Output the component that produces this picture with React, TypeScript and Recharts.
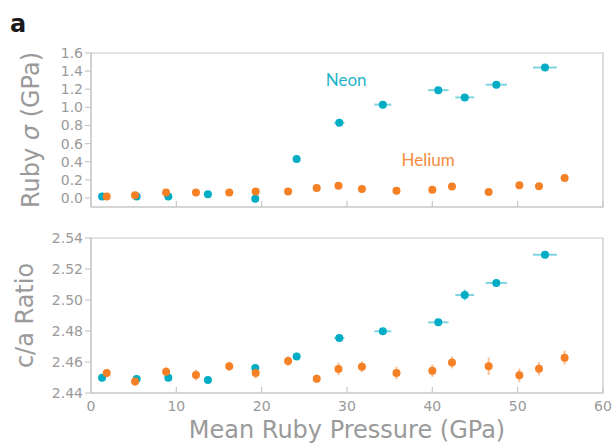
import React from 'react';
import { ScatterChart, Scatter, XAxis, YAxis, ErrorBar, ReferenceArea, ReferenceDot } from 'recharts';

// pressures (GPa)
const neonPressure = [1.3, 5.35, 9.06, 13.7, 19.25, 24.1, 29.1, 34.2, 40.7, 43.8, 47.5, 53.2];
const neonPressureErr = [0.15, 0.15, 0.15, 0.15, 0.15, 0.3, 0.6, 1.0, 1.2, 1.1, 1.25, 1.4];
const neonSigma = [0.015, 0.015, 0.015, 0.04, -0.01, 0.43, 0.83, 1.03, 1.19, 1.11, 1.25, 1.44];
const neonRatio = [2.4499, 2.449, 2.4499, 2.4484, 2.4561, 2.4636, 2.4755, 2.4798, 2.4856, 2.5032, 2.511, 2.5292];
const neonRatioErr = [0.001, 0.001, 0.001, 0.001, 0.001, 0.001, 0.001, 0.001, 0.001, 0.0035, 0.001, 0.001];

const heliumPressure = [1.84, 5.16, 8.8, 12.3, 16.2, 19.3, 23.1, 26.45, 29.0, 31.75, 35.8, 40.0, 42.3, 46.6, 50.2, 52.5, 55.5];
const heliumSigma = [0.015, 0.03, 0.06, 0.06, 0.06, 0.07, 0.07, 0.11, 0.135, 0.1, 0.08, 0.09, 0.125, 0.066, 0.14, 0.13, 0.22];
const heliumRatio = [2.4529, 2.4475, 2.4537, 2.4516, 2.4572, 2.4529, 2.4606, 2.4492, 2.4555, 2.457, 2.4529, 2.4544, 2.4597, 2.4572, 2.4514, 2.4557, 2.4628];
const heliumRatioErr = [0.0027, 0.003, 0.003, 0.0035, 0.003, 0.0035, 0.0032, 0.0027, 0.004, 0.0035, 0.004, 0.004, 0.0038, 0.0056, 0.0044, 0.0042, 0.0045];

const xTicks = [0, 10, 20, 30, 40, 50, 60];
const sigmaTicks = [0, 0.2, 0.4, 0.6, 0.8, 1.0, 1.2, 1.4, 1.6];
const ratioTicks = [2.44, 2.46, 2.48, 2.5, 2.52, 2.54];

const NEON = '#00adc4';
const HELIUM = '#f58025';
const AXIS = '#c8c8c8';
const TEXT = '#9a9a9a';

const neonTop = neonPressure.map((p, i) => ({ p, v: neonSigma[i], pErr: neonPressureErr[i] }));
const heliumTop = heliumPressure.map((p, i) => ({ p, v: heliumSigma[i] }));
const neonBottom = neonPressure.map((p, i) => ({ p, v: neonRatio[i], pErr: neonPressureErr[i], vErr: neonRatioErr[i] }));
const heliumBottom = heliumPressure.map((p, i) => ({ p, v: heliumRatio[i], vErr: heliumRatioErr[i] }));

const dot = (color: string) => (props: any) => <circle cx={props.cx} cy={props.cy} r={4} fill={color} />;

// x ticks point into the plot, like the original
const xTick = (withLabel: boolean) => (props: any) => (
  <g>
    <line x1={props.x} x2={props.x} y1={props.y} y2={props.y - 6} stroke={AXIS} strokeWidth={1.2} />
    {withLabel && (
      <text x={props.x} y={props.y + 18} textAnchor="middle" fill={TEXT} fontSize={14}>
        {props.payload.value}
      </text>
    )}
  </g>
);

const yTitle = (parts: React.ReactNode, x: number) => (props: any) => {
  const vb = props.viewBox;
  const cy = vb.y + vb.height / 2;
  return (
    <text x={x} y={cy} transform={`rotate(-90 ${x} ${cy})`} textAnchor="middle" fill={TEXT} fontSize={24}>
      {parts}
    </text>
  );
};

export default function App() {
  return (
    <div style={{ position: 'absolute', left: 0, top: 0, width: 613, height: 444, fontFamily: 'DejaVu Sans', background: '#fff' }}>
      <svg width={613} height={444} style={{ position: 'absolute', left: 0, top: 0 }}>
        <text x={10} y={32} fontSize={24} fontWeight="bold" fill="#1a1a1a">a</text>
      </svg>

      <div style={{ position: 'absolute', left: 0, top: 0 }}>
        <ScatterChart width={613} height={215} margin={{ top: 53, right: 10, bottom: 0, left: 0 }}>
          <XAxis
            type="number"
            dataKey="p"
            domain={[0, 60]}
            ticks={xTicks}
            interval={0}
            height={8}
            tickSize={0}
            tickMargin={0}
            tickLine={false}
            tick={xTick(false)}
            axisLine={{ stroke: AXIS, strokeWidth: 1.2 }}
            allowDataOverflow
          />
          <YAxis
            type="number"
            dataKey="v"
            domain={[-0.1, 1.6]}
            ticks={sigmaTicks}
            interval={0}
            width={91}
            tickSize={6}
            tickMargin={2}
            tickFormatter={(v: number) => v.toFixed(1)}
            tick={{ fill: TEXT, fontSize: 14 }}
            tickLine={{ stroke: AXIS, strokeWidth: 1.2 }}
            axisLine={{ stroke: AXIS, strokeWidth: 1.2 }}
            label={{
              content: yTitle(
                <>
                  Ruby <tspan fontStyle="italic">σ</tspan> (GPa)
                </>,
                39
              ),
            }}
            allowDataOverflow
          />
          <ReferenceArea x1={0} x2={60} y1={-0.1} y2={1.6} fill="none" stroke={AXIS} strokeWidth={1.2} />
          <Scatter data={neonTop} isAnimationActive={false} shape={dot(NEON)}>
            <ErrorBar dataKey="pErr" direction="x" width={0} stroke={NEON} strokeOpacity={0.5} strokeWidth={2} />
          </Scatter>
          <Scatter data={heliumTop} isAnimationActive={false} shape={dot(HELIUM)} />
          <ReferenceDot x={29.9} y={1.3} r={0} fill="none" stroke="none"
            label={{ value: 'Neon', position: 'center', fill: '#1fb4ca', fontSize: 17, fontFamily: 'Lato' }} />
          <ReferenceDot x={39.5} y={0.418} r={0} fill="none" stroke="none"
            label={{ value: 'Helium', position: 'center', fill: '#f58a3c', fontSize: 17, fontFamily: 'Lato' }} />
        </ScatterChart>
      </div>

      <div style={{ position: 'absolute', left: 0, top: 215 }}>
        <ScatterChart width={613} height={229} margin={{ top: 23, right: 10, bottom: 0, left: 0 }}>
          <XAxis
            type="number"
            dataKey="p"
            domain={[0, 60]}
            ticks={xTicks}
            interval={0}
            height={51}
            tickSize={0}
            tickMargin={0}
            tickLine={false}
            tick={xTick(true)}
            axisLine={{ stroke: AXIS, strokeWidth: 1.2 }}
            label={{
              content: (props: any) => (
                <text x={props.viewBox.x + props.viewBox.width / 2} y={223} textAnchor="middle" fill={TEXT} fontSize={24}>
                  Mean Ruby Pressure (GPa)
                </text>
              ),
            }}
            allowDataOverflow
          />
          <YAxis
            type="number"
            dataKey="v"
            domain={[2.44, 2.54]}
            ticks={ratioTicks}
            interval={0}
            width={91}
            tickSize={6}
            tickMargin={2}
            tickFormatter={(v: number) => v.toFixed(2)}
            tick={{ fill: TEXT, fontSize: 14 }}
            tickLine={{ stroke: AXIS, strokeWidth: 1.2 }}
            axisLine={{ stroke: AXIS, strokeWidth: 1.2 }}
            label={{ content: yTitle('c/a Ratio', 33) }}
            allowDataOverflow
          />
          <ReferenceArea x1={0} x2={60} y1={2.44} y2={2.54} fill="none" stroke={AXIS} strokeWidth={1.2} />
          <Scatter data={neonBottom} isAnimationActive={false} shape={dot(NEON)}>
            <ErrorBar dataKey="pErr" direction="x" width={0} stroke={NEON} strokeOpacity={0.5} strokeWidth={2} />
            <ErrorBar dataKey="vErr" direction="y" width={0} stroke={NEON} strokeOpacity={0.5} strokeWidth={2} />
          </Scatter>
          <Scatter data={heliumBottom} isAnimationActive={false} shape={dot(HELIUM)}>
            <ErrorBar dataKey="vErr" direction="y" width={0} stroke={HELIUM} strokeOpacity={0.5} strokeWidth={2} />
          </Scatter>
        </ScatterChart>
      </div>
    </div>
  );
}
